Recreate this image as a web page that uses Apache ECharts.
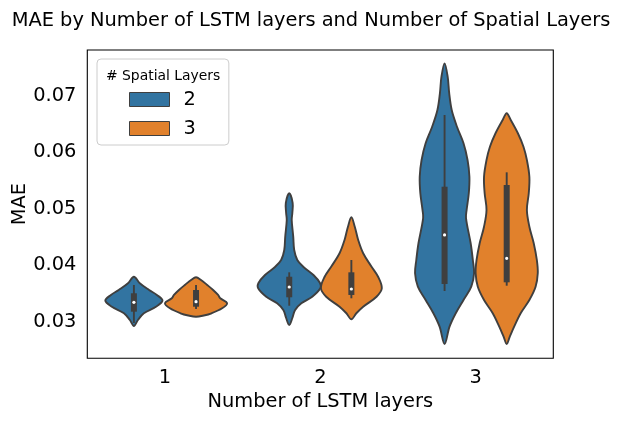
<!DOCTYPE html>
<html>
<head>
    <meta charset="utf-8">
    <title>MAE violin</title>
    <script src="https://cdn.jsdelivr.net/npm/echarts@6/dist/echarts.min.js"></script>
    <style>
        html, body { margin: 0; padding: 0; background: #fff; }
        #chart { width: 622px; height: 421px; }
    </style>
</head>
<body>
<div id="chart"></div>
<script type="text/javascript">
    // 类别：LSTM 层数；色相：空间层数
    var lstmLayers = ['1', '2', '3'];
    var spatialLayers = ['2', '3'];

    // 小提琴轮廓：MAE 取样点（上到下）与相对密度宽度
    var s2l1Mae  = [0.03796, 0.03680, 0.03561, 0.03473, 0.03372, 0.03265, 0.03149, 0.03030, 0.02924];
    var s2l1Dens = [0, 0.19, 0.49, 0.74, 0.92, 0.71, 0.32, 0.13, 0];
    var s2l2Mae  = [0.05273, 0.05101, 0.04924, 0.04800, 0.04499, 0.04269, 0.04092, 0.03973, 0.03827, 0.03685, 0.03591, 0.03442, 0.03326, 0.03207, 0.03065, 0.02942];
    var s2l2Dens = [0, 0.11, 0.10, 0.08, 0.13, 0.16, 0.26, 0.45, 0.78, 0.99, 1.0, 0.74, 0.39, 0.19, 0.10, 0];
    var s2l3Mae  = [0.07573, 0.07336, 0.07042, 0.06747, 0.06451, 0.06158, 0.05862, 0.05566, 0.05273, 0.04977, 0.04835, 0.04388, 0.04092, 0.03857, 0.03619, 0.03384, 0.03149, 0.02912, 0.02605];
    var s2l3Dens = [0, 0.10, 0.15, 0.23, 0.40, 0.61, 0.74, 0.80, 0.78, 0.71, 0.69, 0.84, 0.91, 0.95, 0.86, 0.61, 0.36, 0.16, 0];

    var s3l1Mae  = [0.03786, 0.03738, 0.03650, 0.03561, 0.03473, 0.03414, 0.03326, 0.03237, 0.03149, 0.03110, 0.03088];
    var s3l1Dens = [0, 0.16, 0.36, 0.55, 0.71, 0.78, 1.0, 0.84, 0.50, 0.25, 0];
    var s3l2Mae  = [0.04848, 0.04681, 0.04446, 0.04211, 0.03973, 0.03796, 0.03591, 0.03442, 0.03265, 0.03149, 0.03042];
    var s3l2Dens = [0, 0.11, 0.22, 0.38, 0.65, 0.86, 0.98, 0.81, 0.38, 0.16, 0];
    var s3l3Mae  = [0.06689, 0.06570, 0.06335, 0.06097, 0.05862, 0.05566, 0.05273, 0.04977, 0.04681, 0.04388, 0.04092, 0.03857, 0.03619, 0.03384, 0.03149, 0.02912, 0.02735, 0.02605];
    var s3l3Dens = [0, 0.13, 0.36, 0.54, 0.65, 0.73, 0.71, 0.65, 0.73, 0.87, 0.97, 1.0, 0.93, 0.73, 0.45, 0.24, 0.10, 0];

    // 箱线：[下须, Q1, 中位数, Q3, 上须]
    var s2Box = [
        [0.02977, 0.03177, 0.03343, 0.03503, 0.03650],
        [0.03283, 0.03432, 0.03614, 0.03796, 0.03874],
        [0.03543, 0.03667, 0.04535, 0.05389, 0.06658]
    ];
    var s3Box = [
        [0.03225, 0.03265, 0.03354, 0.03561, 0.03650],
        [0.03414, 0.03473, 0.03579, 0.03874, 0.04092],
        [0.03637, 0.03697, 0.04122, 0.05420, 0.05644]
    ];

    var colors = ['#3274a1', '#e1812c'];
    var edge = '#3f3f3f';
    var font = 'DejaVu Sans';

    var outlines = [
        [[s2l1Mae, s2l1Dens], [s2l2Mae, s2l2Dens], [s2l3Mae, s2l3Dens]],
        [[s3l1Mae, s3l1Dens], [s3l2Mae, s3l2Dens], [s3l3Mae, s3l3Dens]]
    ];
    var boxes = [s2Box, s3Box];

    function violinSeries(h) {
        var offset = h === 0 ? -0.2 : 0.2;
        return {
            name: spatialLayers[h],
            type: 'custom',
            itemStyle: { color: colors[h], borderColor: edge, borderWidth: 1 },
            encode: { x: 0, y: 1 },
            data: lstmLayers.map(function (c, i) { return [i, boxes[h][i][2]]; }),
            renderItem: function (params, api) {
                var i = api.value(0);
                var band = api.size([1, 0])[0];
                var cx = api.coord([i, 0])[0] + offset * band;
                var half = 0.2 * band;
                var mae = outlines[h][i][0], dens = outlines[h][i][1];
                var pts = [];
                for (var k = 0; k < mae.length; k++) {
                    pts.push([cx - dens[k] * half, api.coord([i, mae[k]])[1]]);
                }
                for (var k = mae.length - 2; k > 0; k--) {
                    pts.push([cx + dens[k] * half, api.coord([i, mae[k]])[1]]);
                }
                var b = boxes[h][i];
                var yLo = api.coord([i, b[0]])[1], yQ1 = api.coord([i, b[1]])[1];
                var yMed = api.coord([i, b[2]])[1], yQ3 = api.coord([i, b[3]])[1];
                var yHi = api.coord([i, b[4]])[1];
                return {
                    type: 'group',
                    children: [
                        { type: 'polygon', shape: { points: pts, smooth: 0.35 },
                          style: { fill: colors[h], stroke: edge, lineWidth: 1.9 } },
                        { type: 'line', shape: { x1: cx, y1: yLo, x2: cx, y2: yHi },
                          style: { stroke: edge, lineWidth: 1.9 } },
                        { type: 'rect', shape: { x: cx - 3, y: yQ3, width: 6, height: yQ1 - yQ3 },
                          style: { fill: edge } },
                        { type: 'circle', shape: { cx: cx, cy: yMed, r: 1.6 },
                          style: { fill: '#ffffff' } }
                    ]
                };
            }
        };
    }

    var myChart = echarts.init(document.getElementById('chart'), null, { renderer: 'canvas' });
    myChart.setOption({
        animation: false,
        textStyle: { fontFamily: font },
        title: [{
            text: 'MAE by Number of LSTM layers and Number of Spatial Layers',
            left: 'center', top: 11, padding: 0,
            textStyle: { fontFamily: font, fontSize: 19.4, fontWeight: 'normal', color: '#000' }
        }, {
            text: '# Spatial Layers',
            left: 106, top: 69, padding: 0,
            textStyle: { fontFamily: font, fontSize: 13.9, fontWeight: 'normal', color: '#000' }
        }],
        legend: {
            orient: 'vertical',
            left: 97, top: 59,
            padding: [31, 33, 7, 32],
            borderColor: '#cccccc', borderWidth: 1, borderRadius: 4,
            backgroundColor: '#ffffff',
            itemWidth: 40, itemHeight: 14, itemGap: 10,
            textStyle: { fontFamily: font, fontSize: 19.4, color: '#000', padding: [0, 0, 0, 9] },
            data: spatialLayers.map(function (s, h) {
                return { name: s, icon: 'rect', itemStyle: { color: colors[h], borderColor: edge, borderWidth: 1 } };
            })
        },
        grid: {
            left: 87.3, right: 68.7, top: 50, bottom: 62.7,
            outerBoundsMode: 'none', containLabel: false,
            show: true, borderColor: '#000', borderWidth: 1.1, backgroundColor: 'transparent'
        },
        xAxis: {
            type: 'category',
            data: lstmLayers,
            axisLine: { show: false },
            axisTick: { alignWithLabel: true, length: 4, lineStyle: { color: '#000', width: 1.1 } },
            axisLabel: { fontFamily: font, fontSize: 19.4, color: '#000', margin: 10 },
            name: 'Number of LSTM layers',
            nameLocation: 'middle', nameGap: 34, nameMoveOverlap: false,
            nameTextStyle: { fontFamily: font, fontSize: 19.4, color: '#000' }
        },
        yAxis: {
            type: 'value',
            min: 0.02352, max: 0.07809,
            splitLine: { show: false },
            axisLine: { show: false },
            axisTick: { length: 4, lineStyle: { color: '#000', width: 1.1 } },
            axisLabel: {
                fontFamily: font, fontSize: 19.4, color: '#000', margin: 11,
                showMinLabel: false, showMaxLabel: false,
                formatter: function (v) { return v.toFixed(2); }
            },
            name: 'MAE',
            nameLocation: 'middle', nameGap: 58, nameRotate: 90, nameMoveOverlap: false,
            nameTextStyle: { fontFamily: font, fontSize: 19.4, color: '#000' }
        },
        series: [violinSeries(0), violinSeries(1)]
    });
</script>
</body>
</html>
